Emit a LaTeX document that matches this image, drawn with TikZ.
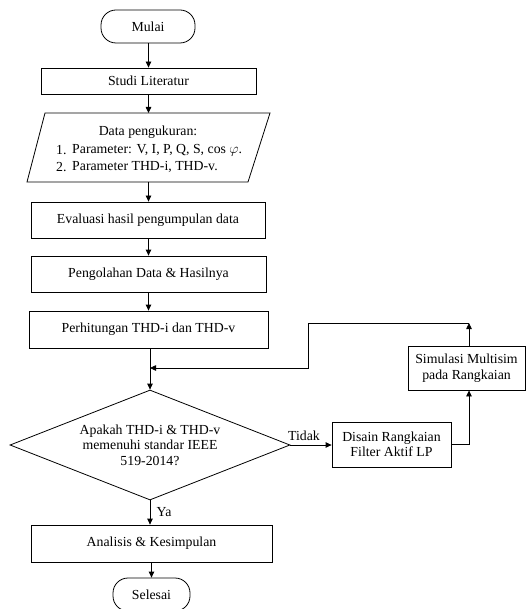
\documentclass[tikz,border=0pt]{standalone}
\usepackage{fontspec}
\setmainfont{Liberation Serif}
\usetikzlibrary{arrows.meta,shapes.geometric,calc}
\begin{document}
\begin{tikzpicture}[x=1pt,y=-1pt,
  every node/.style={font=\fontsize{13.8}{15.5}\selectfont},
  box/.style={draw,line width=0.8pt,inner sep=0pt,align=center},
  term/.style={box,rounded corners=15pt},
  arr/.style={line width=0.8pt,-{Triangle[length=6pt,width=5.5pt]}},
  ln/.style={line width=0.8pt}]
\useasboundingbox (0,0) rectangle (526,609);
% nodes
\node[term,minimum width=94pt,minimum height=33pt] (mulai) at (148,26.5) {Mulai};
\node[box,minimum width=215pt,minimum height=26pt] (studi) at (148.5,81) {Studi Literatur};
% parallelogram
\coordinate (p1) at (45,113);
\coordinate (p2) at (270,113);
\coordinate (p3) at (248,182);
\coordinate (p4) at (27,182);
\coordinate (ptop) at (148.5,113);
\coordinate (pbot) at (148.5,182);
\draw[ln] (p1) -- (p2) -- (p3) -- (p4) -- cycle;
\node (dtitle) at (148,132) {Data pengukuran:};
\node[anchor=west,inner sep=0pt] (n1) at (56,150) {1.};
\node[anchor=west,inner sep=0pt] (l1) at (72,150) {Parameter: V, I, P, Q, S, cos $\varphi$.};
\node[anchor=west,inner sep=0pt] (n2) at (56,167) {2.};
\node[anchor=west,inner sep=0pt] (l2) at (72,167) {Parameter THD-i, THD-v.};
\node[box,minimum width=234pt,minimum height=36pt] (eval) at (148,220) {Evaluasi hasil pengumpulan data};
\node[box,minimum width=235pt,minimum height=36pt] (olah) at (148.5,274) {Pengolahan Data \& Hasilnya};
\node[box,minimum width=239pt,minimum height=37pt] (perh) at (148.5,329.5) {Perhitungan THD-i dan THD-v};
\node[box,shape=diamond,aspect=2.545,minimum width=280pt,minimum height=110pt] (dia) at (150,445)
  {Apakah THD-i \& THD-v\\memenuhi standar IEEE\\519-2014?};
\node[box,minimum width=119pt,minimum height=45pt] (dis) at (391.5,444.5) {Disain Rangkaian\\Filter Aktif LP};
\node[box,minimum width=117pt,minimum height=44pt] (sim) at (466.5,368) {Simulasi Multisim\\pada Rangkaian};
\node[box,minimum width=241pt,minimum height=37pt] (ana) at (151.5,543.5) {Analisis \& Kesimpulan};
\node[term,minimum width=77pt,minimum height=33pt] (sel) at (151.5,594.5) {Selesai};
% coordinates
\coordinate (fb1) at (469,323);
\coordinate (fb2) at (308,323);
\coordinate (j) at (150,368);
% connectors
\draw[arr] (mulai.south -| studi.north) -- (studi.north);
\draw[arr] (studi.south) -- (ptop);
\draw[arr] (pbot) -- (pbot |- eval.north);
\draw[arr] (eval.south -| olah.north) -- (olah.north);
\draw[arr] (olah.south) -- (perh.north);
\draw[arr] (dia.north |- perh.south) -- (dia.north);
\draw[arr] (dia.east) -- (dia.east -| dis.west) node[pos=0.33,above=1pt] {Tidak};
\draw[arr] (dis.east) -| (fb1 |- sim.south);
\draw[arr] (fb1 |- sim.north) -- (fb1);
\draw[arr] (fb1) -- (fb2) -- (fb2 |- j) -- (j);
\draw[arr] (dia.south) -- (dia.south |- ana.north) node[midway,right=3pt] {Ya};
\draw[arr] (ana.south) -- (sel.north);
\end{tikzpicture}
\end{document}
